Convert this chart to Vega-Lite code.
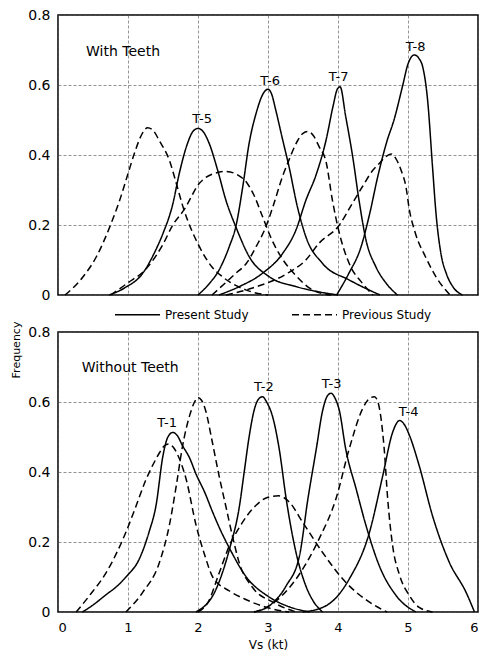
{
  "$schema": "https://vega.github.io/schema/vega-lite/v6.json",
  "padding": {"left": 10, "top": 8, "right": 5, "bottom": 5},
  "title": {"text": "Frequency", "orient": "left", "anchor": "middle", "frame": "bounds", "font": "DejaVu Sans", "fontSize": 11, "fontWeight": "normal", "color": "black", "offset": 6, "dx": -21},
  "data": {"values": [
    {"panel":"With Teeth","name":"With Teeth","x":0.4,"y":0.693},
    {"panel":"Without Teeth","name":"Without Teeth","x":0.34,"y":0.697},
    {"panel":"With Teeth","tag":"T-5","x":2.06,"y":0.503},
    {"panel":"With Teeth","tag":"T-6","x":3.03,"y":0.611},
    {"panel":"With Teeth","tag":"T-7","x":4.01,"y":0.623},
    {"panel":"With Teeth","tag":"T-8","x":5.11,"y":0.709},
    {"panel":"Without Teeth","tag":"T-1","x":1.56,"y":0.54},
    {"panel":"Without Teeth","tag":"T-2","x":2.94,"y":0.643},
    {"panel":"Without Teeth","tag":"T-3","x":3.91,"y":0.651},
    {"panel":"Without Teeth","tag":"T-4","x":5.01,"y":0.571},

    {"panel":"With Teeth","curve":"T5","study":"Present Study","x":0.73,"y":0},
    {"panel":"With Teeth","curve":"T5","study":"Present Study","x":0.95,"y":0.02},
    {"panel":"With Teeth","curve":"T5","study":"Present Study","x":1.21,"y":0.062},
    {"panel":"With Teeth","curve":"T5","study":"Present Study","x":1.4,"y":0.13},
    {"panel":"With Teeth","curve":"T5","study":"Present Study","x":1.5,"y":0.176},
    {"panel":"With Teeth","curve":"T5","study":"Present Study","x":1.64,"y":0.26},
    {"panel":"With Teeth","curve":"T5","study":"Present Study","x":1.73,"y":0.345},
    {"panel":"With Teeth","curve":"T5","study":"Present Study","x":1.85,"y":0.433},
    {"panel":"With Teeth","curve":"T5","study":"Present Study","x":1.93,"y":0.468},
    {"panel":"With Teeth","curve":"T5","study":"Present Study","x":2.0,"y":0.476},
    {"panel":"With Teeth","curve":"T5","study":"Present Study","x":2.08,"y":0.465},
    {"panel":"With Teeth","curve":"T5","study":"Present Study","x":2.16,"y":0.433},
    {"panel":"With Teeth","curve":"T5","study":"Present Study","x":2.28,"y":0.357},
    {"panel":"With Teeth","curve":"T5","study":"Present Study","x":2.4,"y":0.27},
    {"panel":"With Teeth","curve":"T5","study":"Present Study","x":2.54,"y":0.195},
    {"panel":"With Teeth","curve":"T5","study":"Present Study","x":2.73,"y":0.11},
    {"panel":"With Teeth","curve":"T5","study":"Present Study","x":3.02,"y":0.052},
    {"panel":"With Teeth","curve":"T5","study":"Present Study","x":3.4,"y":0.024},
    {"panel":"With Teeth","curve":"T5","study":"Present Study","x":3.7,"y":0.01},
    {"panel":"With Teeth","curve":"T5","study":"Present Study","x":4.0,"y":0},

    {"panel":"With Teeth","curve":"T6","study":"Present Study","x":2.0,"y":0},
    {"panel":"With Teeth","curve":"T6","study":"Present Study","x":2.15,"y":0.03},
    {"panel":"With Teeth","curve":"T6","study":"Present Study","x":2.3,"y":0.071},
    {"panel":"With Teeth","curve":"T6","study":"Present Study","x":2.45,"y":0.14},
    {"panel":"With Teeth","curve":"T6","study":"Present Study","x":2.54,"y":0.195},
    {"panel":"With Teeth","curve":"T6","study":"Present Study","x":2.64,"y":0.31},
    {"panel":"With Teeth","curve":"T6","study":"Present Study","x":2.73,"y":0.433},
    {"panel":"With Teeth","curve":"T6","study":"Present Study","x":2.83,"y":0.519},
    {"panel":"With Teeth","curve":"T6","study":"Present Study","x":2.93,"y":0.575},
    {"panel":"With Teeth","curve":"T6","study":"Present Study","x":3.0,"y":0.588},
    {"panel":"With Teeth","curve":"T6","study":"Present Study","x":3.05,"y":0.575},
    {"panel":"With Teeth","curve":"T6","study":"Present Study","x":3.11,"y":0.529},
    {"panel":"With Teeth","curve":"T6","study":"Present Study","x":3.21,"y":0.443},
    {"panel":"With Teeth","curve":"T6","study":"Present Study","x":3.3,"y":0.367},
    {"panel":"With Teeth","curve":"T6","study":"Present Study","x":3.42,"y":0.252},
    {"panel":"With Teeth","curve":"T6","study":"Present Study","x":3.54,"y":0.167},
    {"panel":"With Teeth","curve":"T6","study":"Present Study","x":3.78,"y":0.09},
    {"panel":"With Teeth","curve":"T6","study":"Present Study","x":4.16,"y":0.043},
    {"panel":"With Teeth","curve":"T6","study":"Present Study","x":4.6,"y":0},

    {"panel":"With Teeth","curve":"T7","study":"Present Study","x":2.3,"y":0},
    {"panel":"With Teeth","curve":"T7","study":"Present Study","x":2.59,"y":0.024},
    {"panel":"With Teeth","curve":"T7","study":"Present Study","x":2.92,"y":0.062},
    {"panel":"With Teeth","curve":"T7","study":"Present Study","x":3.21,"y":0.119},
    {"panel":"With Teeth","curve":"T7","study":"Present Study","x":3.4,"y":0.186},
    {"panel":"With Teeth","curve":"T7","study":"Present Study","x":3.54,"y":0.27},
    {"panel":"With Teeth","curve":"T7","study":"Present Study","x":3.69,"y":0.345},
    {"panel":"With Teeth","curve":"T7","study":"Present Study","x":3.83,"y":0.443},
    {"panel":"With Teeth","curve":"T7","study":"Present Study","x":3.93,"y":0.54},
    {"panel":"With Teeth","curve":"T7","study":"Present Study","x":3.99,"y":0.588},
    {"panel":"With Teeth","curve":"T7","study":"Present Study","x":4.03,"y":0.595},
    {"panel":"With Teeth","curve":"T7","study":"Present Study","x":4.11,"y":0.51},
    {"panel":"With Teeth","curve":"T7","study":"Present Study","x":4.21,"y":0.395},
    {"panel":"With Teeth","curve":"T7","study":"Present Study","x":4.3,"y":0.271},
    {"panel":"With Teeth","curve":"T7","study":"Present Study","x":4.4,"y":0.157},
    {"panel":"With Teeth","curve":"T7","study":"Present Study","x":4.54,"y":0.081},
    {"panel":"With Teeth","curve":"T7","study":"Present Study","x":4.69,"y":0.033},
    {"panel":"With Teeth","curve":"T7","study":"Present Study","x":4.85,"y":0},

    {"panel":"With Teeth","curve":"T8","study":"Present Study","x":3.98,"y":0},
    {"panel":"With Teeth","curve":"T8","study":"Present Study","x":4.15,"y":0.06},
    {"panel":"With Teeth","curve":"T8","study":"Present Study","x":4.33,"y":0.138},
    {"panel":"With Teeth","curve":"T8","study":"Present Study","x":4.45,"y":0.23},
    {"panel":"With Teeth","curve":"T8","study":"Present Study","x":4.57,"y":0.34},
    {"panel":"With Teeth","curve":"T8","study":"Present Study","x":4.7,"y":0.44},
    {"panel":"With Teeth","curve":"T8","study":"Present Study","x":4.8,"y":0.5},
    {"panel":"With Teeth","curve":"T8","study":"Present Study","x":4.92,"y":0.595},
    {"panel":"With Teeth","curve":"T8","study":"Present Study","x":5.0,"y":0.66},
    {"panel":"With Teeth","curve":"T8","study":"Present Study","x":5.09,"y":0.686},
    {"panel":"With Teeth","curve":"T8","study":"Present Study","x":5.16,"y":0.675},
    {"panel":"With Teeth","curve":"T8","study":"Present Study","x":5.21,"y":0.652},
    {"panel":"With Teeth","curve":"T8","study":"Present Study","x":5.28,"y":0.557},
    {"panel":"With Teeth","curve":"T8","study":"Present Study","x":5.35,"y":0.367},
    {"panel":"With Teeth","curve":"T8","study":"Present Study","x":5.4,"y":0.233},
    {"panel":"With Teeth","curve":"T8","study":"Present Study","x":5.47,"y":0.119},
    {"panel":"With Teeth","curve":"T8","study":"Present Study","x":5.55,"y":0.06},
    {"panel":"With Teeth","curve":"T8","study":"Present Study","x":5.64,"y":0.024},
    {"panel":"With Teeth","curve":"T8","study":"Present Study","x":5.78,"y":0},

    {"panel":"With Teeth","curve":"P1","study":"Previous Study","x":0.1,"y":0},
    {"panel":"With Teeth","curve":"P1","study":"Previous Study","x":0.35,"y":0.05},
    {"panel":"With Teeth","curve":"P1","study":"Previous Study","x":0.55,"y":0.11},
    {"panel":"With Teeth","curve":"P1","study":"Previous Study","x":0.76,"y":0.205},
    {"panel":"With Teeth","curve":"P1","study":"Previous Study","x":0.88,"y":0.27},
    {"panel":"With Teeth","curve":"P1","study":"Previous Study","x":0.99,"y":0.34},
    {"panel":"With Teeth","curve":"P1","study":"Previous Study","x":1.1,"y":0.41},
    {"panel":"With Teeth","curve":"P1","study":"Previous Study","x":1.2,"y":0.46},
    {"panel":"With Teeth","curve":"P1","study":"Previous Study","x":1.28,"y":0.478},
    {"panel":"With Teeth","curve":"P1","study":"Previous Study","x":1.36,"y":0.47},
    {"panel":"With Teeth","curve":"P1","study":"Previous Study","x":1.45,"y":0.44},
    {"panel":"With Teeth","curve":"P1","study":"Previous Study","x":1.6,"y":0.38},
    {"panel":"With Teeth","curve":"P1","study":"Previous Study","x":1.66,"y":0.34},
    {"panel":"With Teeth","curve":"P1","study":"Previous Study","x":1.8,"y":0.243},
    {"panel":"With Teeth","curve":"P1","study":"Previous Study","x":2.02,"y":0.138},
    {"panel":"With Teeth","curve":"P1","study":"Previous Study","x":2.2,"y":0.08},
    {"panel":"With Teeth","curve":"P1","study":"Previous Study","x":2.35,"y":0.052},
    {"panel":"With Teeth","curve":"P1","study":"Previous Study","x":2.69,"y":0.014},
    {"panel":"With Teeth","curve":"P1","study":"Previous Study","x":3.0,"y":0},

    {"panel":"With Teeth","curve":"P2","study":"Previous Study","x":0.75,"y":0},
    {"panel":"With Teeth","curve":"P2","study":"Previous Study","x":1.0,"y":0.035},
    {"panel":"With Teeth","curve":"P2","study":"Previous Study","x":1.26,"y":0.075},
    {"panel":"With Teeth","curve":"P2","study":"Previous Study","x":1.5,"y":0.145},
    {"panel":"With Teeth","curve":"P2","study":"Previous Study","x":1.64,"y":0.2},
    {"panel":"With Teeth","curve":"P2","study":"Previous Study","x":1.8,"y":0.243},
    {"panel":"With Teeth","curve":"P2","study":"Previous Study","x":2.02,"y":0.319},
    {"panel":"With Teeth","curve":"P2","study":"Previous Study","x":2.2,"y":0.345},
    {"panel":"With Teeth","curve":"P2","study":"Previous Study","x":2.4,"y":0.353},
    {"panel":"With Teeth","curve":"P2","study":"Previous Study","x":2.55,"y":0.345},
    {"panel":"With Teeth","curve":"P2","study":"Previous Study","x":2.7,"y":0.32},
    {"panel":"With Teeth","curve":"P2","study":"Previous Study","x":2.8,"y":0.285},
    {"panel":"With Teeth","curve":"P2","study":"Previous Study","x":2.92,"y":0.225},
    {"panel":"With Teeth","curve":"P2","study":"Previous Study","x":3.05,"y":0.16},
    {"panel":"With Teeth","curve":"P2","study":"Previous Study","x":3.2,"y":0.105},
    {"panel":"With Teeth","curve":"P2","study":"Previous Study","x":3.4,"y":0.055},
    {"panel":"With Teeth","curve":"P2","study":"Previous Study","x":3.64,"y":0.014},
    {"panel":"With Teeth","curve":"P2","study":"Previous Study","x":3.9,"y":0},

    {"panel":"With Teeth","curve":"P3","study":"Previous Study","x":2.2,"y":0},
    {"panel":"With Teeth","curve":"P3","study":"Previous Study","x":2.54,"y":0.062},
    {"panel":"With Teeth","curve":"P3","study":"Previous Study","x":2.69,"y":0.09},
    {"panel":"With Teeth","curve":"P3","study":"Previous Study","x":2.83,"y":0.138},
    {"panel":"With Teeth","curve":"P3","study":"Previous Study","x":2.97,"y":0.195},
    {"panel":"With Teeth","curve":"P3","study":"Previous Study","x":3.07,"y":0.252},
    {"panel":"With Teeth","curve":"P3","study":"Previous Study","x":3.21,"y":0.34},
    {"panel":"With Teeth","curve":"P3","study":"Previous Study","x":3.3,"y":0.386},
    {"panel":"With Teeth","curve":"P3","study":"Previous Study","x":3.42,"y":0.44},
    {"panel":"With Teeth","curve":"P3","study":"Previous Study","x":3.5,"y":0.462},
    {"panel":"With Teeth","curve":"P3","study":"Previous Study","x":3.57,"y":0.467},
    {"panel":"With Teeth","curve":"P3","study":"Previous Study","x":3.65,"y":0.455},
    {"panel":"With Teeth","curve":"P3","study":"Previous Study","x":3.73,"y":0.424},
    {"panel":"With Teeth","curve":"P3","study":"Previous Study","x":3.83,"y":0.38},
    {"panel":"With Teeth","curve":"P3","study":"Previous Study","x":3.92,"y":0.271},
    {"panel":"With Teeth","curve":"P3","study":"Previous Study","x":4.02,"y":0.176},
    {"panel":"With Teeth","curve":"P3","study":"Previous Study","x":4.16,"y":0.09},
    {"panel":"With Teeth","curve":"P3","study":"Previous Study","x":4.35,"y":0.033},
    {"panel":"With Teeth","curve":"P3","study":"Previous Study","x":4.5,"y":0},

    {"panel":"With Teeth","curve":"P4","study":"Previous Study","x":2.4,"y":0},
    {"panel":"With Teeth","curve":"P4","study":"Previous Study","x":2.78,"y":0.02},
    {"panel":"With Teeth","curve":"P4","study":"Previous Study","x":3.26,"y":0.06},
    {"panel":"With Teeth","curve":"P4","study":"Previous Study","x":3.54,"y":0.1},
    {"panel":"With Teeth","curve":"P4","study":"Previous Study","x":3.73,"y":0.148},
    {"panel":"With Teeth","curve":"P4","study":"Previous Study","x":4.02,"y":0.2},
    {"panel":"With Teeth","curve":"P4","study":"Previous Study","x":4.2,"y":0.26},
    {"panel":"With Teeth","curve":"P4","study":"Previous Study","x":4.35,"y":0.31},
    {"panel":"With Teeth","curve":"P4","study":"Previous Study","x":4.5,"y":0.357},
    {"panel":"With Teeth","curve":"P4","study":"Previous Study","x":4.59,"y":0.376},
    {"panel":"With Teeth","curve":"P4","study":"Previous Study","x":4.68,"y":0.395},
    {"panel":"With Teeth","curve":"P4","study":"Previous Study","x":4.76,"y":0.403},
    {"panel":"With Teeth","curve":"P4","study":"Previous Study","x":4.84,"y":0.385},
    {"panel":"With Teeth","curve":"P4","study":"Previous Study","x":4.9,"y":0.357},
    {"panel":"With Teeth","curve":"P4","study":"Previous Study","x":4.97,"y":0.31},
    {"panel":"With Teeth","curve":"P4","study":"Previous Study","x":5.02,"y":0.243},
    {"panel":"With Teeth","curve":"P4","study":"Previous Study","x":5.1,"y":0.18},
    {"panel":"With Teeth","curve":"P4","study":"Previous Study","x":5.26,"y":0.105},
    {"panel":"With Teeth","curve":"P4","study":"Previous Study","x":5.4,"y":0.052},
    {"panel":"With Teeth","curve":"P4","study":"Previous Study","x":5.6,"y":0},

    {"panel":"Without Teeth","curve":"T1","study":"Present Study","x":0.35,"y":0},
    {"panel":"Without Teeth","curve":"T1","study":"Present Study","x":0.5,"y":0.02},
    {"panel":"Without Teeth","curve":"T1","study":"Present Study","x":0.69,"y":0.05},
    {"panel":"Without Teeth","curve":"T1","study":"Present Study","x":0.85,"y":0.075},
    {"panel":"Without Teeth","curve":"T1","study":"Present Study","x":0.97,"y":0.1},
    {"panel":"Without Teeth","curve":"T1","study":"Present Study","x":1.16,"y":0.151},
    {"panel":"Without Teeth","curve":"T1","study":"Present Study","x":1.3,"y":0.228},
    {"panel":"Without Teeth","curve":"T1","study":"Present Study","x":1.4,"y":0.304},
    {"panel":"Without Teeth","curve":"T1","study":"Present Study","x":1.5,"y":0.447},
    {"panel":"Without Teeth","curve":"T1","study":"Present Study","x":1.57,"y":0.5},
    {"panel":"Without Teeth","curve":"T1","study":"Present Study","x":1.64,"y":0.513},
    {"panel":"Without Teeth","curve":"T1","study":"Present Study","x":1.7,"y":0.505},
    {"panel":"Without Teeth","curve":"T1","study":"Present Study","x":1.78,"y":0.475},
    {"panel":"Without Teeth","curve":"T1","study":"Present Study","x":1.88,"y":0.44},
    {"panel":"Without Teeth","curve":"T1","study":"Present Study","x":1.97,"y":0.395},
    {"panel":"Without Teeth","curve":"T1","study":"Present Study","x":2.1,"y":0.34},
    {"panel":"Without Teeth","curve":"T1","study":"Present Study","x":2.21,"y":0.285},
    {"panel":"Without Teeth","curve":"T1","study":"Present Study","x":2.33,"y":0.23},
    {"panel":"Without Teeth","curve":"T1","study":"Present Study","x":2.45,"y":0.182},
    {"panel":"Without Teeth","curve":"T1","study":"Present Study","x":2.69,"y":0.1},
    {"panel":"Without Teeth","curve":"T1","study":"Present Study","x":3.0,"y":0.045},
    {"panel":"Without Teeth","curve":"T1","study":"Present Study","x":3.3,"y":0.015},
    {"panel":"Without Teeth","curve":"T1","study":"Present Study","x":3.6,"y":0},

    {"panel":"Without Teeth","curve":"T2","study":"Present Study","x":1.97,"y":0},
    {"panel":"Without Teeth","curve":"T2","study":"Present Study","x":2.26,"y":0.066},
    {"panel":"Without Teeth","curve":"T2","study":"Present Study","x":2.45,"y":0.18},
    {"panel":"Without Teeth","curve":"T2","study":"Present Study","x":2.59,"y":0.3},
    {"panel":"Without Teeth","curve":"T2","study":"Present Study","x":2.66,"y":0.4},
    {"panel":"Without Teeth","curve":"T2","study":"Present Study","x":2.73,"y":0.5},
    {"panel":"Without Teeth","curve":"T2","study":"Present Study","x":2.8,"y":0.575},
    {"panel":"Without Teeth","curve":"T2","study":"Present Study","x":2.86,"y":0.607},
    {"panel":"Without Teeth","curve":"T2","study":"Present Study","x":2.92,"y":0.615},
    {"panel":"Without Teeth","curve":"T2","study":"Present Study","x":2.98,"y":0.6},
    {"panel":"Without Teeth","curve":"T2","study":"Present Study","x":3.07,"y":0.555},
    {"panel":"Without Teeth","curve":"T2","study":"Present Study","x":3.16,"y":0.466},
    {"panel":"Without Teeth","curve":"T2","study":"Present Study","x":3.26,"y":0.323},
    {"panel":"Without Teeth","curve":"T2","study":"Present Study","x":3.4,"y":0.17},
    {"panel":"Without Teeth","curve":"T2","study":"Present Study","x":3.54,"y":0.075},
    {"panel":"Without Teeth","curve":"T2","study":"Present Study","x":3.65,"y":0.03},
    {"panel":"Without Teeth","curve":"T2","study":"Present Study","x":3.78,"y":0},

    {"panel":"Without Teeth","curve":"T3","study":"Present Study","x":2.8,"y":0},
    {"panel":"Without Teeth","curve":"T3","study":"Present Study","x":3.02,"y":0.018},
    {"panel":"Without Teeth","curve":"T3","study":"Present Study","x":3.26,"y":0.075},
    {"panel":"Without Teeth","curve":"T3","study":"Present Study","x":3.45,"y":0.161},
    {"panel":"Without Teeth","curve":"T3","study":"Present Study","x":3.57,"y":0.323},
    {"panel":"Without Teeth","curve":"T3","study":"Present Study","x":3.69,"y":0.466},
    {"panel":"Without Teeth","curve":"T3","study":"Present Study","x":3.78,"y":0.575},
    {"panel":"Without Teeth","curve":"T3","study":"Present Study","x":3.85,"y":0.618},
    {"panel":"Without Teeth","curve":"T3","study":"Present Study","x":3.9,"y":0.625},
    {"panel":"Without Teeth","curve":"T3","study":"Present Study","x":3.96,"y":0.61},
    {"panel":"Without Teeth","curve":"T3","study":"Present Study","x":4.02,"y":0.575},
    {"panel":"Without Teeth","curve":"T3","study":"Present Study","x":4.11,"y":0.466},
    {"panel":"Without Teeth","curve":"T3","study":"Present Study","x":4.26,"y":0.351},
    {"panel":"Without Teeth","curve":"T3","study":"Present Study","x":4.4,"y":0.247},
    {"panel":"Without Teeth","curve":"T3","study":"Present Study","x":4.59,"y":0.132},
    {"panel":"Without Teeth","curve":"T3","study":"Present Study","x":4.83,"y":0.047},
    {"panel":"Without Teeth","curve":"T3","study":"Present Study","x":5.11,"y":0},

    {"panel":"Without Teeth","curve":"T4","study":"Present Study","x":3.5,"y":0},
    {"panel":"Without Teeth","curve":"T4","study":"Present Study","x":3.83,"y":0.018},
    {"panel":"Without Teeth","curve":"T4","study":"Present Study","x":4.16,"y":0.094},
    {"panel":"Without Teeth","curve":"T4","study":"Present Study","x":4.45,"y":0.228},
    {"panel":"Without Teeth","curve":"T4","study":"Present Study","x":4.64,"y":0.39},
    {"panel":"Without Teeth","curve":"T4","study":"Present Study","x":4.78,"y":0.513},
    {"panel":"Without Teeth","curve":"T4","study":"Present Study","x":4.88,"y":0.547},
    {"panel":"Without Teeth","curve":"T4","study":"Present Study","x":4.95,"y":0.535},
    {"panel":"Without Teeth","curve":"T4","study":"Present Study","x":5.02,"y":0.505},
    {"panel":"Without Teeth","curve":"T4","study":"Present Study","x":5.16,"y":0.418},
    {"panel":"Without Teeth","curve":"T4","study":"Present Study","x":5.35,"y":0.275},
    {"panel":"Without Teeth","curve":"T4","study":"Present Study","x":5.59,"y":0.142},
    {"panel":"Without Teeth","curve":"T4","study":"Present Study","x":5.83,"y":0.056},
    {"panel":"Without Teeth","curve":"T4","study":"Present Study","x":5.95,"y":0},

    {"panel":"Without Teeth","curve":"Q1","study":"Previous Study","x":0.26,"y":0},
    {"panel":"Without Teeth","curve":"Q1","study":"Previous Study","x":0.45,"y":0.047},
    {"panel":"Without Teeth","curve":"Q1","study":"Previous Study","x":0.69,"y":0.113},
    {"panel":"Without Teeth","curve":"Q1","study":"Previous Study","x":0.97,"y":0.228},
    {"panel":"Without Teeth","curve":"Q1","study":"Previous Study","x":1.11,"y":0.3},
    {"panel":"Without Teeth","curve":"Q1","study":"Previous Study","x":1.25,"y":0.375},
    {"panel":"Without Teeth","curve":"Q1","study":"Previous Study","x":1.35,"y":0.418},
    {"panel":"Without Teeth","curve":"Q1","study":"Previous Study","x":1.45,"y":0.455},
    {"panel":"Without Teeth","curve":"Q1","study":"Previous Study","x":1.52,"y":0.475},
    {"panel":"Without Teeth","curve":"Q1","study":"Previous Study","x":1.58,"y":0.48},
    {"panel":"Without Teeth","curve":"Q1","study":"Previous Study","x":1.65,"y":0.47},
    {"panel":"Without Teeth","curve":"Q1","study":"Previous Study","x":1.73,"y":0.44},
    {"panel":"Without Teeth","curve":"Q1","study":"Previous Study","x":1.83,"y":0.38},
    {"panel":"Without Teeth","curve":"Q1","study":"Previous Study","x":1.97,"y":0.25},
    {"panel":"Without Teeth","curve":"Q1","study":"Previous Study","x":2.1,"y":0.16},
    {"panel":"Without Teeth","curve":"Q1","study":"Previous Study","x":2.21,"y":0.1},
    {"panel":"Without Teeth","curve":"Q1","study":"Previous Study","x":2.45,"y":0.06},
    {"panel":"Without Teeth","curve":"Q1","study":"Previous Study","x":2.69,"y":0.035},
    {"panel":"Without Teeth","curve":"Q1","study":"Previous Study","x":3.0,"y":0.012},
    {"panel":"Without Teeth","curve":"Q1","study":"Previous Study","x":3.3,"y":0},

    {"panel":"Without Teeth","curve":"Q2","study":"Previous Study","x":0.97,"y":0},
    {"panel":"Without Teeth","curve":"Q2","study":"Previous Study","x":1.21,"y":0.056},
    {"panel":"Without Teeth","curve":"Q2","study":"Previous Study","x":1.45,"y":0.142},
    {"panel":"Without Teeth","curve":"Q2","study":"Previous Study","x":1.59,"y":0.247},
    {"panel":"Without Teeth","curve":"Q2","study":"Previous Study","x":1.69,"y":0.361},
    {"panel":"Without Teeth","curve":"Q2","study":"Previous Study","x":1.78,"y":0.475},
    {"panel":"Without Teeth","curve":"Q2","study":"Previous Study","x":1.88,"y":0.561},
    {"panel":"Without Teeth","curve":"Q2","study":"Previous Study","x":1.95,"y":0.6},
    {"panel":"Without Teeth","curve":"Q2","study":"Previous Study","x":2.0,"y":0.613},
    {"panel":"Without Teeth","curve":"Q2","study":"Previous Study","x":2.05,"y":0.605},
    {"panel":"Without Teeth","curve":"Q2","study":"Previous Study","x":2.11,"y":0.575},
    {"panel":"Without Teeth","curve":"Q2","study":"Previous Study","x":2.2,"y":0.49},
    {"panel":"Without Teeth","curve":"Q2","study":"Previous Study","x":2.3,"y":0.39},
    {"panel":"Without Teeth","curve":"Q2","study":"Previous Study","x":2.4,"y":0.3},
    {"panel":"Without Teeth","curve":"Q2","study":"Previous Study","x":2.5,"y":0.21},
    {"panel":"Without Teeth","curve":"Q2","study":"Previous Study","x":2.59,"y":0.14},
    {"panel":"Without Teeth","curve":"Q2","study":"Previous Study","x":2.78,"y":0.07},
    {"panel":"Without Teeth","curve":"Q2","study":"Previous Study","x":3.07,"y":0.028},
    {"panel":"Without Teeth","curve":"Q2","study":"Previous Study","x":3.4,"y":0},

    {"panel":"Without Teeth","curve":"Q3","study":"Previous Study","x":2.0,"y":0},
    {"panel":"Without Teeth","curve":"Q3","study":"Previous Study","x":2.15,"y":0.03},
    {"panel":"Without Teeth","curve":"Q3","study":"Previous Study","x":2.3,"y":0.11},
    {"panel":"Without Teeth","curve":"Q3","study":"Previous Study","x":2.45,"y":0.19},
    {"panel":"Without Teeth","curve":"Q3","study":"Previous Study","x":2.6,"y":0.245},
    {"panel":"Without Teeth","curve":"Q3","study":"Previous Study","x":2.83,"y":0.305},
    {"panel":"Without Teeth","curve":"Q3","study":"Previous Study","x":3.0,"y":0.328},
    {"panel":"Without Teeth","curve":"Q3","study":"Previous Study","x":3.15,"y":0.332},
    {"panel":"Without Teeth","curve":"Q3","study":"Previous Study","x":3.3,"y":0.315},
    {"panel":"Without Teeth","curve":"Q3","study":"Previous Study","x":3.5,"y":0.255},
    {"panel":"Without Teeth","curve":"Q3","study":"Previous Study","x":3.78,"y":0.17},
    {"panel":"Without Teeth","curve":"Q3","study":"Previous Study","x":4.11,"y":0.085},
    {"panel":"Without Teeth","curve":"Q3","study":"Previous Study","x":4.45,"y":0.028},
    {"panel":"Without Teeth","curve":"Q3","study":"Previous Study","x":4.7,"y":0},

    {"panel":"Without Teeth","curve":"Q4","study":"Previous Study","x":2.8,"y":0},
    {"panel":"Without Teeth","curve":"Q4","study":"Previous Study","x":3.02,"y":0.018},
    {"panel":"Without Teeth","curve":"Q4","study":"Previous Study","x":3.4,"y":0.094},
    {"panel":"Without Teeth","curve":"Q4","study":"Previous Study","x":3.73,"y":0.209},
    {"panel":"Without Teeth","curve":"Q4","study":"Previous Study","x":3.97,"y":0.323},
    {"panel":"Without Teeth","curve":"Q4","study":"Previous Study","x":4.16,"y":0.466},
    {"panel":"Without Teeth","curve":"Q4","study":"Previous Study","x":4.35,"y":0.58},
    {"panel":"Without Teeth","curve":"Q4","study":"Previous Study","x":4.45,"y":0.61},
    {"panel":"Without Teeth","curve":"Q4","study":"Previous Study","x":4.52,"y":0.615},
    {"panel":"Without Teeth","curve":"Q4","study":"Previous Study","x":4.57,"y":0.6},
    {"panel":"Without Teeth","curve":"Q4","study":"Previous Study","x":4.61,"y":0.56},
    {"panel":"Without Teeth","curve":"Q4","study":"Previous Study","x":4.66,"y":0.466},
    {"panel":"Without Teeth","curve":"Q4","study":"Previous Study","x":4.71,"y":0.323},
    {"panel":"Without Teeth","curve":"Q4","study":"Previous Study","x":4.78,"y":0.19},
    {"panel":"Without Teeth","curve":"Q4","study":"Previous Study","x":4.88,"y":0.105},
    {"panel":"Without Teeth","curve":"Q4","study":"Previous Study","x":5.02,"y":0.047},
    {"panel":"Without Teeth","curve":"Q4","study":"Previous Study","x":5.16,"y":0.013},
    {"panel":"Without Teeth","curve":"Q4","study":"Previous Study","x":5.35,"y":0}
  ]},
  "facet": {
    "row": {
      "field": "panel", "type": "nominal",
      "sort": ["With Teeth", "Without Teeth"],
      "title": null,
      "header": {"labels": false}
    }
  },
  "spacing": 32,
  "spec": {
    "width": 420,
    "height": 280,
    "layer": [
      {
        "transform": [{"filter": "datum.study != null"}],
        "mark": {"type": "line", "interpolate": "monotone", "strokeWidth": 1.5, "color": "black"},
        "encoding": {
          "x": {"field": "x", "type": "quantitative", "title": "Vs  (kt)",
                "scale": {"domain": [0, 6], "nice": false},
                "axis": {"values": [0, 1, 2, 3, 4, 5, 6], "format": "d"}},
          "y": {"field": "y", "type": "quantitative", "title": null,
                "scale": {"domain": [0, 0.8], "nice": false},
                "axis": {"values": [0, 0.2, 0.4, 0.6, 0.8], "labelFontSize": 14, "labelExpr": "datum.value == 0 ? '0' : format(datum.value, '.1f')"}},
          "detail": {"field": "curve", "type": "nominal"},
          "strokeDash": {"field": "study", "type": "nominal",
                "scale": {"domain": ["Present Study", "Previous Study"], "range": [[1, 0], [7, 4]]},
                "legend": {"orient": "none", "legendX": 56, "legendY": 276, "direction": "horizontal", "title": null,
                           "symbolType": "stroke", "symbolSize": 2025, "symbolStrokeWidth": 1.5, "symbolStrokeColor": "black",
                           "labelFont": "DejaVu Sans", "labelFontSize": 12, "labelColor": "black", "labelOffset": 4, "columnPadding": 40}}
        }
      },
      {
        "transform": [{"filter": "datum.tag != null"}],
        "mark": {"type": "text", "font": "DejaVu Sans", "fontSize": 13, "color": "black"},
        "encoding": {
          "x": {"field": "x", "type": "quantitative"},
          "y": {"field": "y", "type": "quantitative"},
          "text": {"field": "tag"}
        }
      },
      {
        "transform": [{"filter": "datum.name != null"}],
        "mark": {"type": "text", "font": "DejaVu Sans", "fontSize": 14, "align": "left", "color": "black"},
        "encoding": {
          "x": {"field": "x", "type": "quantitative"},
          "y": {"field": "y", "type": "quantitative"},
          "text": {"field": "name"}
        }
      }
    ]
  },
  "config": {
    "font": "DejaVu Sans",
    "view": {"stroke": "black", "strokeWidth": 1.5},
    "axis": {
      "ticks": false, "domain": false,
      "labelFont": "DejaVu Sans", "labelFontSize": 13, "labelColor": "black",
      "titleFont": "DejaVu Sans", "titleFontSize": 12, "titleFontWeight": "normal", "titleColor": "black",
      "grid": true, "gridColor": "#555", "gridDash": [3, 2], "gridWidth": 0.8, "gridOpacity": 0.8
    },
    "axisX": {"labelPadding": 5, "titlePadding": 5},
    "axisY": {"labelPadding": 7}
  }
}
